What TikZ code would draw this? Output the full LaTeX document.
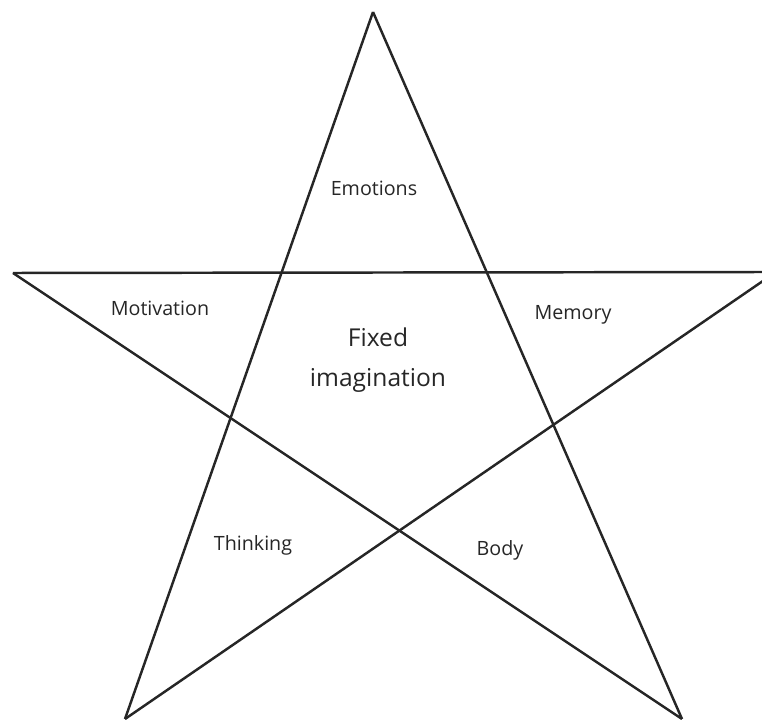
\documentclass[tikz,border=0pt]{standalone}
\usepackage{fontspec}
\setmainfont{Open Sans}
\begin{document}
\begin{tikzpicture}[x=0.02cm,y=0.02cm,
    edge/.style={line width=1.4pt,draw=black!85},
    label/.style={font=\fontsize{11.2}{13}\selectfont,text=black!85},
    centre/.style={font=\fontsize{14}{22.7}\selectfont,text=black!85,align=center}]
    \useasboundingbox (0,0) rectangle (762,720);
    \clip (0,0) rectangle (762,720);

    % Points of the star
    \coordinate (top) at (373,708);
    \coordinate (left) at (13,447);
    \coordinate (right) at (776,448);
    \coordinate (botleft) at (125,1);
    \coordinate (botright) at (682,1);

    % Star edges
    \draw[edge] (top) -- (botleft);
    \draw[edge] (top) -- (botright);
    \draw[edge] (left) -- (right);
    \draw[edge] (left) -- (botright);
    \draw[edge] (right) -- (botleft);

    % Labels
    \node[label] (emotions) at (374,532) {Emotions};
    \node[label] (motivation) at (160,412) {Motivation};
    \node[label] (memory) at (573,405) {Memory};
    \node[centre] (fixed) at (378,360) {Fixed\\imagination};
    \node[label] (thinking) at (253,175) {Thinking};
    \node[label] (body) at (500,170) {Body};
\end{tikzpicture}
\end{document}
